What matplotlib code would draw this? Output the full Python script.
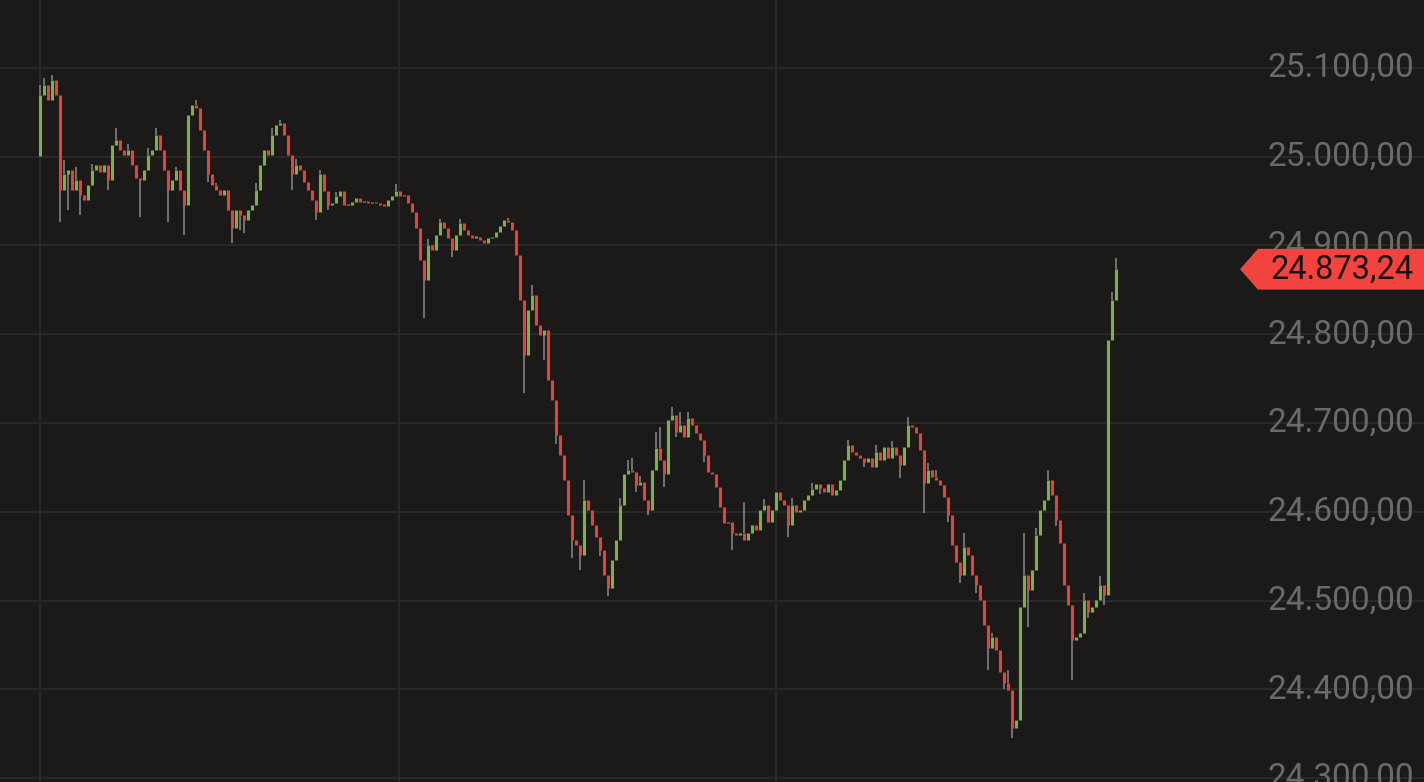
import matplotlib
matplotlib.use("Agg")
import matplotlib.pyplot as plt
from matplotlib.patches import Polygon
import matplotlib.transforms as mtransforms

# closing prices, one per candle (open = previous close)
first_open = 25001
closes = [
    25070, 25081, 25064, 25086, 25070, 24963, 24980, 24985, 24963, 24974,
    24957, 24951, 24968, 24985, 24991, 24983, 24991, 24974, 25013, 25019,
    25008, 25002, 25008, 24991, 24976, 24974, 24985, 25002, 25008, 25025,
    25008, 24985, 24963, 24974, 24985, 24963, 24946, 25047, 25058, 25055,
    25030, 25008, 24980, 24968, 24963, 24957, 24963, 24940, 24920, 24940,
    24934, 24929, 24940, 24946, 24963, 24991, 25008, 25002, 25025, 25036,
    25038, 25025, 25002, 24980, 24991, 24985, 24972, 24963, 24951, 24938,
    24980, 24961, 24946, 24948, 24956, 24961, 24946, 24946, 24949, 24954,
    24949, 24950, 24948, 24949, 24948, 24946, 24945, 24951, 24956, 24961,
    24956, 24957, 24948, 24938, 24920, 24884, 24861, 24901, 24895, 24912,
    24926, 24920, 24909, 24895, 24912, 24925, 24917, 24912, 24909, 24910,
    24906, 24903, 24908, 24910, 24915, 24922, 24929, 24926, 24917, 24889,
    24839, 24777, 24827, 24844, 24810, 24799, 24805, 24748, 24726, 24686,
    24664, 24636, 24596, 24568, 24563, 24551, 24613, 24602, 24585, 24572,
    24557, 24529, 24514, 24546, 24568, 24608, 24642, 24647, 24645, 24630,
    24633, 24613, 24602, 24647, 24672, 24658, 24642, 24703, 24709, 24690,
    24698, 24684, 24706, 24698, 24689, 24681, 24664, 24645, 24643, 24628,
    24605, 24587, 24588, 24576, 24574, 24576, 24568, 24576, 24585, 24579,
    24602, 24608, 24588, 24602, 24622, 24613, 24608, 24585, 24608, 24600,
    24602, 24613, 24619, 24626, 24631, 24627, 24622, 24631, 24619, 24625,
    24636, 24658, 24675, 24667, 24664, 24660, 24656, 24660, 24650, 24667,
    24658, 24673, 24660, 24673, 24664, 24653, 24673, 24698, 24695, 24689,
    24670, 24632, 24647, 24639, 24636, 24630, 24617, 24596, 24563, 24543,
    24529, 24560, 24551, 24529, 24517, 24501, 24472, 24446, 24459, 24444,
    24419, 24407, 24399, 24356, 24365, 24493, 24529, 24512, 24534, 24574,
    24602, 24613, 24636, 24619, 24591, 24565, 24517, 24495, 24455, 24459,
    24463, 24501, 24487, 24493, 24501, 24517, 24506, 24794, 24839, 24873.24,
]

# wick extremes by candle index (others have no visible wick)
highs = {
    0: 25081, 1: 25089, 3: 25092, 6: 24996, 9: 24988, 13: 24992, 19: 25032,
    22: 25014, 27: 25010, 29: 25032, 34: 24988, 39: 25064, 44: 24970,
    54: 24970, 58: 25032, 60: 25041, 64: 24998, 70: 24985, 74: 24960,
    89: 24969, 97: 24907, 100: 24930, 105: 24930, 117: 24931, 123: 24855,
    128: 24733, 136: 24636, 139: 24580, 145: 24615, 147: 24658, 148: 24661,
    150: 24640, 154: 24690, 155: 24696, 158: 24718, 160: 24712, 162: 24712,
    176: 24611, 181: 24614, 188: 24615, 193: 24632, 202: 24681, 209: 24675,
    213: 24680, 217: 24707, 222: 24655, 224: 24647, 231: 24576, 238: 24463,
    242: 24422, 246: 24576, 249: 24582, 252: 24647, 261: 24509, 265: 24528,
    268: 24848, 269: 24886,
}
lows = {
    5: 24926, 7: 24940, 10: 24934, 12: 24958, 17: 24963, 25: 24932,
    32: 24926, 36: 24912, 42: 24972, 48: 24903, 50: 24917, 51: 24914,
    63: 24963, 69: 24929, 72: 24940, 96: 24818, 103: 24887, 121: 24734,
    126: 24771, 129: 24676, 133: 24548, 135: 24534, 140: 24550, 142: 24505,
    149: 24622, 152: 24596, 156: 24628, 159: 24684, 166: 24656, 173: 24557,
    177: 24568, 187: 24571, 195: 24620, 206: 24650, 215: 24638, 221: 24599,
    227: 24588, 230: 24520, 234: 24508, 237: 24422, 241: 24400, 243: 24345,
    247: 24470, 254: 24584, 258: 24410, 262: 24480, 266: 24495,
}

price_ticks = [24300, 24400, 24500, 24600, 24700, 24800, 24900, 25000, 25100]
time_marks = [0, 89.75, 184]

bg = "#1c1a19"
grid_c = "#2b2a29"
red = "#e0443c"
green = "#7fae4a"
gray = "#8a8a8a"
label_c = "#6b6a69"


def fmt_de(v):
    s = f"{v:,.2f}"
    return s.replace(",", "X").replace(".", ",").replace("X", ".")


fig = plt.figure(figsize=(14.24, 7.82), dpi=100, facecolor=bg)
ax = fig.add_axes([0, 0, 1, 1])
ax.set_facecolor(bg)
ax.set_xlim(-10, 346)
ax.set_ylim(24295.5, 25176.6)
for s in ax.spines.values():
    s.set_visible(False)
ax.set_xticks([])
ax.set_yticks([])

for p in price_ticks:
    ax.axhline(p, color=grid_c, lw=1.4, zorder=0)
for t in time_marks:
    ax.axvline(t, color=grid_c, lw=1.4, zorder=0)

opens = [first_open] + closes[:-1]
for i, (o, c) in enumerate(zip(opens, closes)):
    top = max(o, c)
    bot = min(o, c)
    hi = highs.get(i, top)
    lo = lows.get(i, bot)
    if hi > top:
        ax.vlines(i, top, hi, color=gray, lw=1.1, zorder=2)
    if lo < bot:
        ax.vlines(i, lo, bot, color=gray, lw=1.1, zorder=2)
    col = green if c >= o else red
    if top - bot < 1.2:
        top = bot + 1.2
    ax.vlines(i, bot, top, color=col, lw=2.2, zorder=3)

for p in price_ticks:
    ax.text(0.993, p, fmt_de(p), transform=ax.get_yaxis_transform(),
            ha="right", va="center", fontsize=24, color=label_c,
            family="Roboto", zorder=4)

# last price tag
last = closes[-1]
trans = mtransforms.blended_transform_factory(ax.transAxes, ax.transData)
half = 23
tag = Polygon([(0.8708, last), (0.8834, last + half), (1.0, last + half),
               (1.0, last - half), (0.8834, last - half)],
              closed=True, transform=trans, facecolor="#f2433f",
              edgecolor="none", zorder=5)
ax.add_patch(tag)
ax.text(0.993, last, fmt_de(last), transform=trans, ha="right", va="center",
        fontsize=23.5, color="#1a0f0f", family="Roboto", zorder=6)

fig.savefig("out.png", dpi=100, facecolor=bg)
